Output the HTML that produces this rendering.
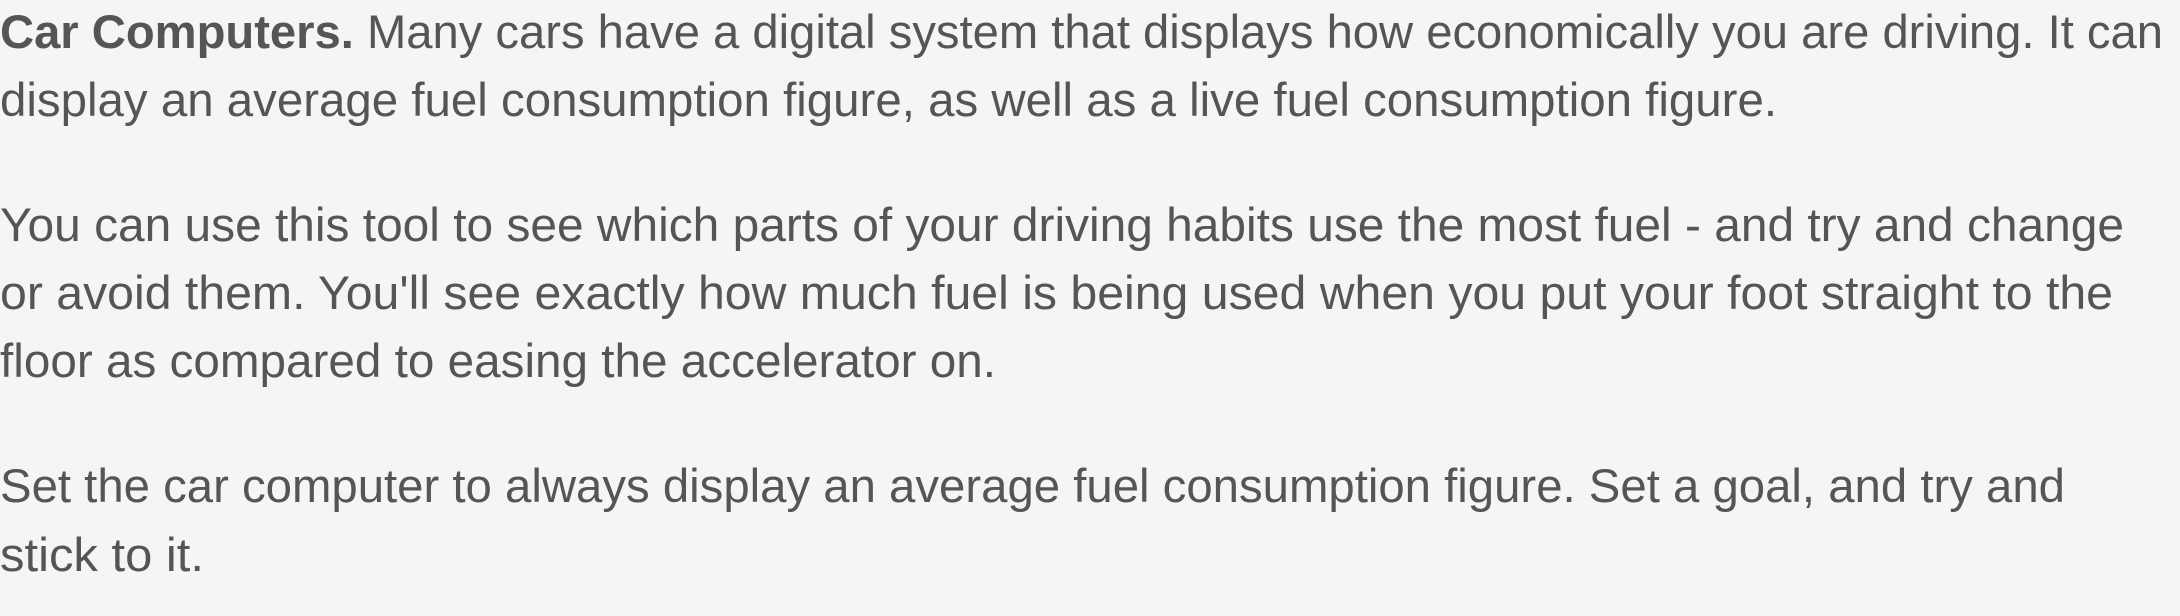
<!DOCTYPE html>
<html><head><meta charset="utf-8"><style>
html,body{margin:0;padding:0;background:#f5f5f5;width:2180px;height:616px;overflow:hidden}
.l{position:absolute;left:0;white-space:nowrap;font-family:"Liberation Sans",sans-serif;font-size:47px;color:#555;transform-origin:0 0;line-height:1}
b{color:#555}
</style></head><body>
<div class="l" data-w="2163" data-b="51"><b>Car Computers.</b> Many cars have a digital system that displays how economically you are driving. It can</div>
<div class="l" data-w="1777" data-b="119">display an average fuel consumption figure, as well as a live fuel consumption figure.</div>
<div class="l" data-w="2124" data-b="244">You can use this tool to see which parts of your driving habits use the most fuel - and try and change</div>
<div class="l" data-w="2113" data-b="312">or avoid them. You'll see exactly how much fuel is being used when you put your foot straight to the</div>
<div class="l" data-w="996" data-b="380">floor as compared to easing the accelerator on.</div>
<div class="l" data-w="2065" data-b="505">Set the car computer to always display an average fuel consumption figure. Set a goal, and try and</div>
<div class="l" data-w="204" data-b="574">stick to it.</div>
<script>
document.querySelectorAll('.l').forEach(function(e){
  var w=e.getBoundingClientRect().width;
  var s=(+e.dataset.w)/w;
  e.style.top=(+e.dataset.b - 47*0.905)+'px';
  e.style.transform='scaleX('+s+')';
});
</script>
</body></html>
